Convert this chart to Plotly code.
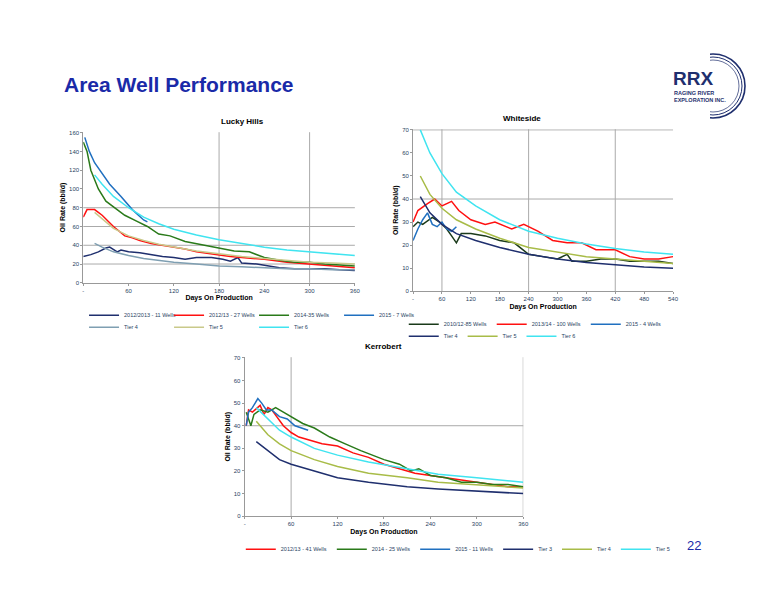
import plotly.graph_objects as go

# ---- Lucky Hills ----
lh_x_a = [0,10,20,30,35,45,50,60,75,90,105,120,135,150,170,185,195,205,210,230,245,260,280,300,320,340,360]
lh_y_a = [28,30,33,37,38,33,35,33,32,30,28,27,25,27,27,25,23,27,21,20,18,16,15,15,15,14,13]
lh_x_b = [0,5,15,25,40,55,65,75,90,105,120,135,150,175,195,210,240,270,300,330,360]
lh_y_b = [70,78,78,72,60,50,48,45,42,40,38,36,33,30,28,27,25,22,20,18,16]
lh_x_c = [0,5,10,20,30,45,55,70,85,100,115,135,160,180,200,220,240,260,280,300,320,340,360]
lh_y_c = [150,140,120,100,87,78,72,66,60,52,50,44,40,37,34,33,27,24,22,22,20,19,18]
lh_x_d = [2,8,15,22,35,50,65,80,85]
lh_y_d = [155,140,128,120,105,92,78,67,65]
lh_x_t = [15,25,40,60,80,100,120,150,180,210,240,270,300,330,360]
lh_t4 = [42,38,33,29,26,24,22,20,18,17,16,15,15,14,14]
lh_t5 = [75,68,58,50,45,41,38,34,31,28,26,24,22,21,20]
lh_t6 = [115,105,92,80,70,63,57,51,46,42,38,35,33,31,29]

# ---- Whiteside ----
ws_x_a = [0,10,20,40,55,70,80,90,100,120,150,180,210,240,270,300,320,330,360,390,420,450,480,510,540]
ws_y_a = [28,30,29,32,30,27,24,21,25,25,24,22,21,16,15,14,16,13,13,14,14,13,13,13,12]
ws_x_b = [0,10,30,45,60,80,95,120,150,170,205,230,260,290,320,350,380,420,450,480,510,540]
ws_y_b = [30,35,38,40,37,39,35,31,29,30,27,29,26,22,21,21,18,18,15,14,14,15]
ws_x_c = [0,10,20,30,40,50,60,70,80,90]
ws_y_c = [22,27,31,34,29,28,30,27,26,28]
ws_x_t = [15,35,60,90,130,180,240,300,360,420,480,540]
ws_t4 = [41,34,29,25,22,19,16,14,12.5,11.5,10.5,10]
ws_t5 = [50,42,36,31,27,23,19,17,15,14,13,12]
ws_t6 = [70,60,51,43,37,31,26,23,20.5,18.5,17,16]

# ---- Kerrobert ----
kb_x_a = [2,5,10,20,25,30,35,45,50,60,70,80,100,120,140,160,180,200,220,240,260,280,300,320,340,360]
kb_y_a = [40,47,46,49,45,48,47,42,40,37,35,34,32,31,28,26,23,21,19,18,17,16,15,14,13,13]
kb_x_b = [2,8,12,20,30,40,50,60,75,90,110,130,150,180,200,215,225,240,260,280,300,320,340,360]
kb_y_b = [46,40,45,47,46,48,46,44,41,39,35,32,29,25,23,20,21,18,17,15,15,14,14,13]
kb_x_c = [2,5,10,17,22,28,35,45,55,65,82]
kb_y_c = [40,46,48,52,50,47,47,44,43,40,38]
kb_x_t = [15,30,45,60,90,120,160,210,250,300,360]
kb_t3 = [33,29,25,23,20,17,15,13,12,11,10]
kb_t4 = [42,36,32,29,25,22,19,17,15,14,12.5]
kb_t5 = [48,43,38,35,30,27,24,21,18.5,17,15]

NAVY = "#1f2f6e"; RED = "#ff1010"; GREEN = "#2a7a1a"; BLUE = "#2070c0"
T4G = "#7f9fb2"; KHAKI = "#c9c98a"; OLIVE = "#a8bc48"; CYAN = "#40e4f0"

fig = go.Figure()

def add(x, y, name, color, xa, ya, lg):
    fig.add_trace(go.Scatter(x=x, y=y, name=name, mode="lines",
                             line=dict(color=color, width=1.5),
                             xaxis=xa, yaxis=ya, legend=lg))

add(lh_x_a, lh_y_a, "2012/2013 - 11 Wells", NAVY, "x", "y", "legend")
add(lh_x_b, lh_y_b, "2012/13 - 27 Wells", RED, "x", "y", "legend")
add(lh_x_c, lh_y_c, "2014-35 Wells", GREEN, "x", "y", "legend")
add(lh_x_d, lh_y_d, "2015 - 7 Wells", BLUE, "x", "y", "legend")
add(lh_x_t, lh_t4, "Tier 4", T4G, "x", "y", "legend4")
add(lh_x_t, lh_t5, "Tier 5", KHAKI, "x", "y", "legend4")
add(lh_x_t, lh_t6, "Tier 6", CYAN, "x", "y", "legend4")

add(ws_x_a, ws_y_a, "2010/12-85 Wells", "#1a3a1a", "x2", "y2", "legend2")
add(ws_x_b, ws_y_b, "2013/14 - 100 Wells", RED, "x2", "y2", "legend2")
add(ws_x_c, ws_y_c, "2015 - 4 Wells", BLUE, "x2", "y2", "legend2")
add(ws_x_t, ws_t4, "Tier 4", NAVY, "x2", "y2", "legend5")
add(ws_x_t, ws_t5, "Tier 5", OLIVE, "x2", "y2", "legend5")
add(ws_x_t, ws_t6, "Tier 6", CYAN, "x2", "y2", "legend5")

add(kb_x_a, kb_y_a, "2012/13 - 41 Wells", RED, "x3", "y3", "legend3")
add(kb_x_b, kb_y_b, "2014 - 25 Wells", GREEN, "x3", "y3", "legend3")
add(kb_x_c, kb_y_c, "2015 - 11 Wells", BLUE, "x3", "y3", "legend3")
add(kb_x_t, kb_t3, "Tier 3", NAVY, "x3", "y3", "legend3")
add(kb_x_t, kb_t4, "Tier 4", OLIVE, "x3", "y3", "legend3")
add(kb_x_t, kb_t5, "Tier 5", CYAN, "x3", "y3", "legend3")

ax = dict(showgrid=False, showline=True, linecolor="#999", tickfont=dict(size=6, family="Arial"),
          ticks="outside", ticklen=2, tickcolor="#999", zeroline=False)
tf = dict(size=7, family="Arial", color="black")
lgf = dict(size=5.5, family="Arial")
lgbase = dict(orientation="h", xanchor="left", yanchor="top", font=lgf, itemwidth=30,
              tracegroupgap=0, bgcolor="rgba(0,0,0,0)")

fig.update_layout(
    width=776, height=600, margin=dict(l=0, r=0, t=0, b=0, autoexpand=False),
    paper_bgcolor="white", plot_bgcolor="white", font=dict(family="Arial"),
    xaxis=dict(ax, domain=[0.097, 0.447], range=[0, 360], tickvals=[0,60,120,180,240,300,360],
               ticktext=["-","60","120","180","240","300","360"],
               title=dict(text="<b>Days On Production</b>", font=tf, standoff=2), anchor="y"),
    yaxis=dict(ax, domain=[0.542, 0.793], range=[0, 160.5], dtick=20,
               title=dict(text="<b>Oil Rate (bbl/d)</b>", font=tf, standoff=2), anchor="x"),
    xaxis2=dict(ax, domain=[0.522, 0.857], range=[0, 540],
                tickvals=list(range(0, 541, 60)), ticktext=["-"]+[str(v) for v in range(60, 541, 60)],
                title=dict(text="<b>Days On Production</b>", font=tf, standoff=2), anchor="y2"),
    yaxis2=dict(ax, domain=[0.528, 0.798], range=[0, 70.3], dtick=10,
                title=dict(text="<b>Oil Rate (bbl/d)</b>", font=tf, standoff=2), anchor="x2"),
    xaxis3=dict(ax, domain=[0.305, 0.664], range=[0, 360], tickvals=[0,60,120,180,240,300,360],
                ticktext=["-","60","120","180","240","300","360"],
                title=dict(text="<b>Days On Production</b>", font=tf, standoff=2), anchor="y3"),
    yaxis3=dict(ax, domain=[0.153, 0.418], range=[0, 70.3], dtick=10,
                title=dict(text="<b>Oil Rate (bbl/d)</b>", font=tf, standoff=2), anchor="x3"),
    legend=dict(lgbase, x=0.098, y=0.512, entrywidth=40),
    legend4=dict(lgbase, x=0.098, y=0.492, entrywidth=40),
    legend2=dict(lgbase, x=0.51, y=0.497, entrywidth=0),
    legend5=dict(lgbase, x=0.51, y=0.477, entrywidth=0),
    legend3=dict(lgbase, x=0.30, y=0.122, entrywidth=0),
)

grid = [("x","y","v",180),("x","y","v",300),("x","y","h",20),("x","y","h",40),("x","y","h",60),("x","y","h",80),
        ("x2","y2","v",60),("x2","y2","v",240),("x2","y2","v",420),("x2","y2","h",40),("x2","y2","h",70),
        ("x3","y3","v",60),("x3","y3","v",360),("x3","y3","h",40)]
for xa, ya, o, v in grid:
    if o == "v":
        fig.add_shape(type="line", xref=xa, yref=ya+" domain", x0=v, x1=v, y0=0, y1=1,
                      line=dict(color="#aaa", width=1), layer="below")
    else:
        fig.add_shape(type="line", xref=xa+" domain", yref=ya, x0=0, x1=1, y0=v, y1=v,
                      line=dict(color="#aaa", width=1), layer="below")

titles = [("Lucky Hills", 0.272, 0.80), ("Whiteside", 0.69, 0.805), ("Kerrobert", 0.484, 0.425)]
for t, x, y in titles:
    fig.add_annotation(text=f"<b>{t}</b>", x=x, y=y, xref="paper", yref="paper", showarrow=False,
                       font=dict(size=8, color="black"), yanchor="bottom")

fig.add_annotation(text="<b>Area Well Performance</b>", x=0.07, y=0.872, xref="paper", yref="paper",
                   showarrow=False, xanchor="left", yanchor="middle",
                   font=dict(size=21, color="#1a2aa8", family="Arial"))
fig.add_annotation(text="22", x=0.895, y=0.088, xref="paper", yref="paper", showarrow=False,
                   font=dict(size=13, color="#1a2aa8"))
# logo
for r, w in [(32, 1.6), (29, 1.0), (26, 0.7)]:
    fig.add_shape(type="circle", xref="paper", yref="paper", x0=(705-r)/776, x1=(705+r)/776,
                  y0=1-(78+r)/600, y1=1-(78-r)/600, line=dict(color="#1f2f6e", width=w), layer="below")
fig.add_shape(type="rect", xref="paper", yref="paper", x0=655/776, x1=702/776, y0=1-118/600, y1=1-40/600,
              fillcolor="white", line=dict(width=0), layer="below")
fig.add_shape(type="rect", xref="paper", yref="paper", x0=655/776, x1=722/776, y0=1-96/600, y1=1-80/600,
              fillcolor="white", line=dict(width=0), layer="below")
fig.add_annotation(text="<b>RRX</b>", x=663/776, y=1-70/600, xref="paper", yref="paper", showarrow=False,
                   xanchor="left", yanchor="middle", font=dict(size=19, color="#1f2f6e", family="Arial"))
fig.add_annotation(text="<b>RAGING RIVER<br>EXPLORATION INC.</b>", x=664/776, y=1-88/600, xref="paper",
                   yref="paper", showarrow=False, xanchor="left", yanchor="middle", align="left",
                   font=dict(size=5.5, color="#1f2f6e"))

fig.write_html("out.html")
